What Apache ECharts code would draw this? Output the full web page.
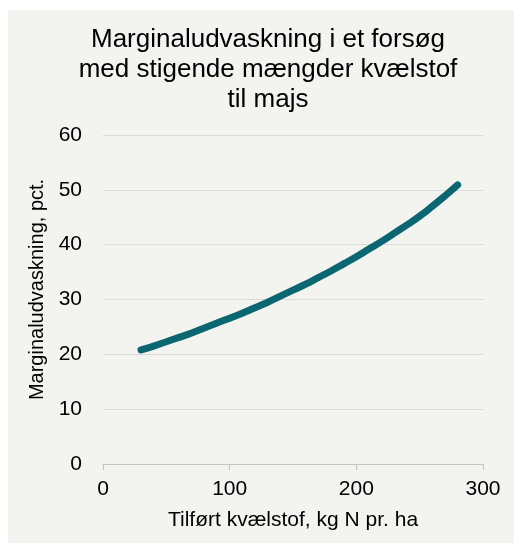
<!DOCTYPE html>
<html>
<head>
<meta charset="utf-8">
<script src="https://cdn.jsdelivr.net/npm/echarts@6/dist/echarts.min.js"></script>
<style>
  html, body { margin: 0; padding: 0; background: #ffffff; }
  #bg { position: absolute; left: 8px; top: 10px; width: 506px; height: 533px; background: #f3f3ef; }
  #chart { position: absolute; left: 0; top: 0; width: 514px; height: 543px; }
</style>
</head>
<body>
<div id="bg"></div>
<div id="chart"></div>
<script>
// tilført kvælstof (kg N/ha) og marginaludvaskning (pct.)
const nitrogen = [30, 40, 50, 60, 70, 80, 90, 100, 110, 120, 130, 140, 150, 160,
  170, 180, 190, 200, 210, 220, 230, 240, 250, 260, 270, 280];
const leaching = [20.8, 21.5, 22.3, 23.1, 23.9, 24.8, 25.7, 26.6, 27.5, 28.5, 29.5,
  30.6, 31.7, 32.8, 34.0, 35.2, 36.5, 37.8, 39.2, 40.6, 42.1, 43.6, 45.2, 47.0, 48.9, 50.9];

const font = 'Liberation Sans, Arial, sans-serif';

const chart = echarts.init(document.getElementById('chart'));
const option = {
  backgroundColor: 'transparent',
  animation: false,
  title: {
    text: 'Marginaludvaskning i et forsøg\nmed stigende mængder kvælstof\ntil majs',
    left: 263,
    top: 20,
    textAlign: 'center',
    textStyle: {
      fontFamily: font,
      fontSize: 26,
      fontWeight: 'normal',
      lineHeight: 30,
      color: '#000'
    }
  },
  grid: {
    left: 103,
    right: 31,
    top: 135,
    bottom: 79
  },
  xAxis: {
    type: 'value',
    min: 0,
    max: 300,
    interval: 100,
    name: 'Tilført kvælstof, kg N pr. ha',
    nameLocation: 'middle',
    nameGap: 46,
    nameTextStyle: { fontFamily: font, fontSize: 21, color: '#000' },
    axisLine: { show: true, lineStyle: { color: '#c4c4c4', width: 1 } },
    axisTick: { show: true, length: 6, lineStyle: { color: '#c4c4c4' } },
    axisLabel: { fontFamily: font, fontSize: 21, color: '#000', margin: 15 },
    splitLine: { show: false }
  },
  yAxis: {
    type: 'value',
    min: 0,
    max: 60,
    interval: 10,
    name: 'Marginaludvaskning, pct.',
    nameLocation: 'middle',
    nameGap: 43,
    nameTextStyle: { fontFamily: font, fontSize: 20, color: '#000', padding: [0, 0, 0, 20] },
    axisLine: { show: false },
    axisTick: { show: false },
    axisLabel: { fontFamily: font, fontSize: 21, color: '#000', margin: 21 },
    splitLine: { lineStyle: { color: '#dadada', width: 1 } }
  },
  series: [{
    type: 'line',
    data: nitrogen.map((n, i) => [n, leaching[i]]),
    showSymbol: false,
    smooth: true,
    lineStyle: { color: '#0a6670', width: 7, cap: 'round', join: 'round' }
  }]
};
chart.setOption(option);
</script>
</body>
</html>
